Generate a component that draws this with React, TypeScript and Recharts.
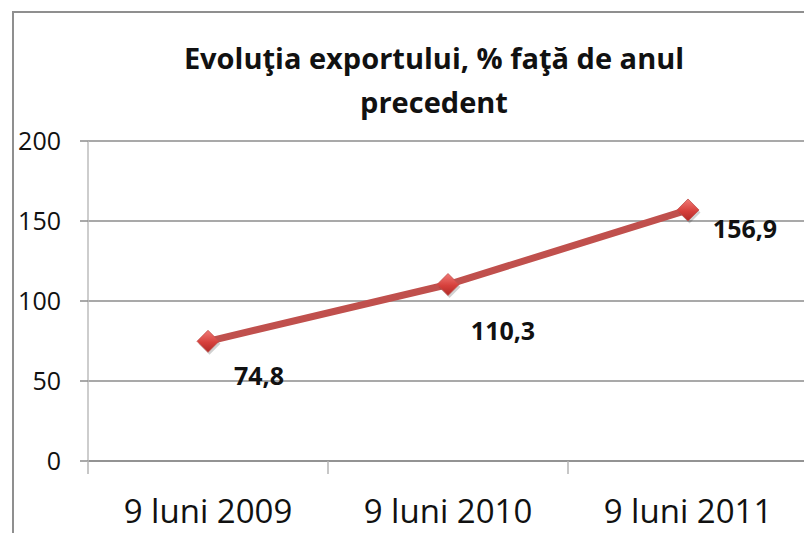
import React from "react";
import { LineChart, Line, XAxis, YAxis, CartesianGrid } from "recharts";

const categories = ["9 luni 2009", "9 luni 2010", "9 luni 2011"];
const exportValues = [74.8, 110.3, 156.9];
const yTicks = [0, 50, 100, 150, 200];

const data = categories.map((c, i) => ({ name: c, value: exportValues[i] }));

const FONT = "'Open Sans', 'Noto Sans', sans-serif";
const LABEL_DX = [51, 55, 57];
const LABEL_DY = [44, 55, 28];

const XTick = (props: any) => {
  const { x, y, payload } = props;
  const off = payload && payload.offset ? payload.offset : 0;
  return (
    <g>
      <line x1={x - off} x2={x - off} y1={y} y2={y + 13} stroke="#b5b5b5" strokeWidth={1.5} />
      <text x={x} y={y + 62} textAnchor="middle" fontFamily={FONT} fontSize={33} fill="#111">
        {payload.value}
      </text>
    </g>
  );
};

const Dot = (props: any) => {
  const { cx, cy, index } = props;
  if (cx == null || cy == null) return null;
  const r = 11;
  const id = `dg${index}`;
  return (
    <g key={id}>
      <defs>
        <linearGradient id={id} x1="0" y1="0" x2="0" y2="1">
          <stop offset="0%" stopColor="#f07a76" />
          <stop offset="55%" stopColor="#d6403c" />
          <stop offset="100%" stopColor="#b02a27" />
        </linearGradient>
      </defs>
      <polygon
        points={`${cx + 1.5},${cy - r + 2.5} ${cx + r + 1.5},${cy + 2.5} ${cx + 1.5},${cy + r + 2.5} ${cx - r + 1.5},${cy + 2.5}`}
        fill="rgba(0,0,0,0.18)"
      />
      <polygon
        points={`${cx},${cy - r} ${cx + r},${cy} ${cx},${cy + r} ${cx - r},${cy}`}
        fill={`url(#${id})`}
        stroke="#c0504d"
        strokeWidth={0.8}
      />
    </g>
  );
};

const DataLabel = (props: any) => {
  const { x, y, value, index } = props;
  if (x == null || y == null) return null;
  const txt = Number(value).toFixed(1).replace(".", ",");
  return (
    <text
      x={x + LABEL_DX[index]}
      y={y + LABEL_DY[index]}
      textAnchor="middle"
      fontFamily={FONT}
      fontWeight={700}
      fontSize={25}
      fill="#111"
    >
      {txt}
    </text>
  );
};

export default function App() {
  return (
    <div
      style={{
        position: "absolute",
        left: 0,
        top: 0,
        width: 804,
        height: 533,
        overflow: "hidden",
        background: "#fff",
      }}
    >
      <div
        style={{
          position: "absolute",
          left: 12,
          top: 11,
          width: 900,
          height: 600,
          borderLeft: "2px solid #8f8f8f",
          borderTop: "2px solid #8f8f8f",
        }}
      />
      <div
        style={{
          position: "absolute",
          left: 134,
          width: 600,
          top: 36,
          textAlign: "center",
          fontFamily: FONT,
          fontWeight: 700,
          fontSize: 29,
          lineHeight: "44px",
          color: "#111",
        }}
      >
        Evoluţia exportului, % faţă de anul
        <br />
        precedent
      </div>
      <div style={{ position: "absolute", left: 0, top: 0 }}>
        <LineChart
          width={810}
          height={533}
          data={data}
          margin={{ top: 141, right: 2, bottom: 0, left: 0 }}
        >
          <CartesianGrid horizontal vertical={false} stroke="#8c8c8c" strokeWidth={1.5} />
          <XAxis
            dataKey="name"
            scale="band"
            height={72}
            tickLine={false}
            tickSize={0}
            tickMargin={0}
            axisLine={{ stroke: "#8c8c8c", strokeWidth: 1.5 }}
            tick={<XTick />}
            interval={0}
          />
          <YAxis
            width={88}
            domain={[0, 200]}
            ticks={yTicks}
            tickSize={8}
            tickMargin={19}
            tickLine={{ stroke: "#8c8c8c", strokeWidth: 1.5 }}
            axisLine={{ stroke: "#bdbdbd", strokeWidth: 1.5 }}
            tick={{ fontFamily: FONT, fontSize: 25, fill: "#111" }}
          />
          <Line
            type="linear"
            dataKey="value"
            stroke="#c0504d"
            strokeWidth={7}
            isAnimationActive={false}
            dot={<Dot />}
            activeDot={false}
            label={<DataLabel />}
          />
        </LineChart>
      </div>
    </div>
  );
}
